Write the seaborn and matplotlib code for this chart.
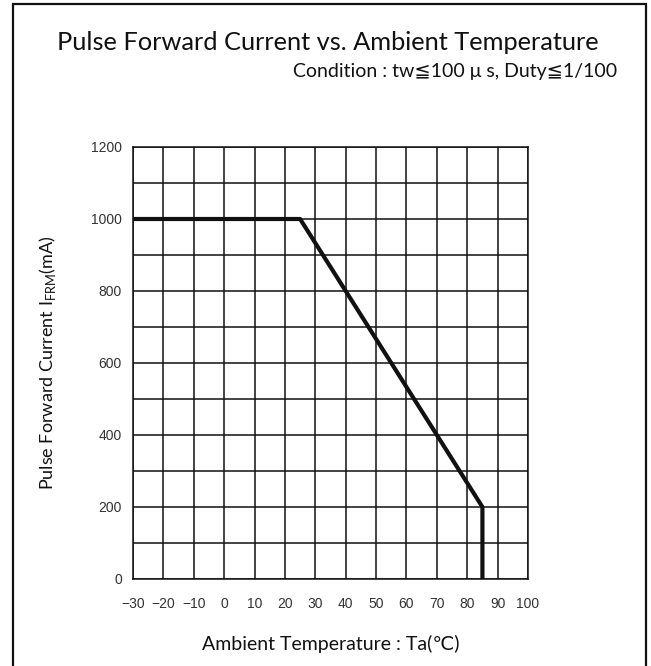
import seaborn as sns
import numpy as np
import pandas as pd
import matplotlib.pyplot as plt
from matplotlib.patches import Rectangle
from matplotlib.ticker import MultipleLocator

# derating curve
temps = [-30, 25, 85, 85]
currents = [1000, 1000, 200, 0]

x_ticks = list(range(-30, 101, 10))
y_ticks = list(range(0, 1201, 200))

sns.set_style("white")
plt.rcParams['font.family'] = ['Lato', 'DejaVu Sans']
plt.rcParams['mathtext.fontset'] = 'custom'
plt.rcParams['mathtext.rm'] = 'Lato'

df = pd.DataFrame({"temp": temps, "current": currents})

fig = plt.figure(figsize=(6.51, 6.66), dpi=100)
ax = fig.add_axes([133 / 651, 1 - 579 / 666, 395 / 651, 432 / 666])

sns.lineplot(data=df, x="temp", y="current", sort=False, estimator=None,
             color="#111111", linewidth=3.0, ax=ax, zorder=5)

ax.set_xlim(-30, 100)
ax.set_ylim(0, 1200)
ax.set_xticks(x_ticks)
ax.set_yticks(y_ticks)
ax.yaxis.set_minor_locator(MultipleLocator(100))
ax.grid(True, which="both", color="#111111", linewidth=1.1)
for s in ax.spines.values():
    s.set_visible(True)
    s.set_color("#111111")
    s.set_linewidth(1.1)

tick_font = ['Liberation Sans Narrow', 'Liberation Sans', 'DejaVu Sans']
ax.tick_params(axis="both", which="both", length=0, colors="#333333")
ax.tick_params(axis="y", pad=8)
ax.tick_params(axis="x", pad=13)
for lab in ax.get_xticklabels() + ax.get_yticklabels():
    lab.set_family(tick_font)
    lab.set_fontsize(10)
ax.set_xticklabels([str(t).replace("-", "\u2212") for t in x_ticks])

ax.set_xlabel("Ambient Temperature : Ta(\u2103)", fontsize=14, color="#111111")
ax.set_ylabel(r"Pulse Forward Current I$_{\mathrm{FRM}}$(mA)", fontsize=13, color="#111111")
ax.xaxis.set_label_coords(0.5, -0.13)
ax.yaxis.set_label_coords(-0.19, 0.5)

fig.text(328 / 651, 1 - 42 / 666, "Pulse Forward Current vs. Ambient Temperature",
         ha="center", va="center", fontsize=18.3, color="#111111")
fig.text(617 / 651, 1 - 71 / 666, "Condition : tw\u2266100 \u03bc s, Duty\u22661/100",
         ha="right", va="center", fontsize=14, color="#111111")

border = Rectangle((13 / 651, -0.05), 633 / 651, 1.05 - 4 / 666, transform=fig.transFigure,
                   fill=False, edgecolor="#111111", linewidth=1.6, clip_on=False)
fig.patches.append(border)

fig.savefig("out.png", dpi=100)
